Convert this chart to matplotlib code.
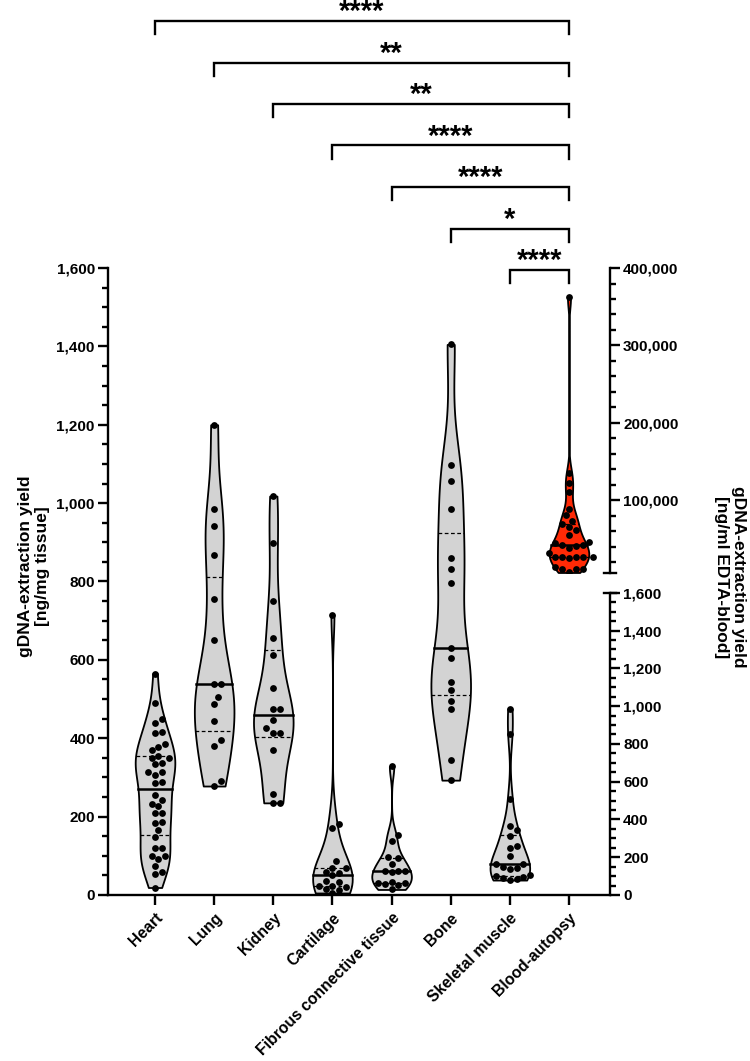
import numpy as np
import matplotlib.pyplot as plt
from matplotlib.ticker import MultipleLocator, FuncFormatter
from matplotlib.transforms import blended_transform_factory

plt.rcParams['font.family'] = ['Liberation Sans', 'DejaVu Sans']
plt.rcParams['font.weight'] = 'bold'

# the data (ng/mg tissue, blood in ng/ml)
categories = ['Heart', 'Lung', 'Kidney', 'Cartilage', 'Fibrous connective tissue',
              'Bone', 'Skeletal muscle', 'Blood-autopsy']
heart = [565, 491, 450, 439, 417, 413, 385, 378, 370, 355, 350, 350, 336, 333, 315, 315,
         307, 289, 285, 255, 243, 232, 226, 209, 209, 187, 183, 165, 148, 120, 120,
         99, 99, 92, 75, 58, 53, 19]
lung = [1200, 986, 941, 868, 755, 651, 538, 538, 504, 487, 443, 395, 381, 290, 278]
kidney = [1018, 898, 750, 657, 613, 529, 474, 474, 446, 427, 414, 414, 370, 258, 235, 235]
cartilage = [715, 181, 172, 86, 70, 68, 58, 56, 52, 35, 32, 24, 22, 20, 14, 12, 5]
fibrous = [328, 153, 138, 96, 94, 80, 62, 61, 60, 58, 34, 31, 30, 29, 25, 14]
bone = [1405, 1096, 1057, 984, 861, 831, 796, 629, 605, 543, 523, 496, 475, 344, 293]
skeletal = [475, 410, 245, 175, 165, 150, 125, 120, 100, 80, 78, 72, 70, 65, 50, 48,
            46, 42, 40, 38]
blood = [362000, 135000, 122000, 111000, 89000, 81000, 74000, 69000, 66000, 62000,
         55000, 46000, 45000, 43000, 42000, 41000, 39000, 32000, 27000, 27000, 27000,
         27000, 27000, 26000, 14000, 12000, 12000, 12000, 7000]
tissues = [heart, lung, kidney, cartilage, fibrous, bone, skeletal]

# significance brackets: group index vs blood (top to bottom)
comp_groups = [0, 1, 2, 3, 4, 5, 6]
comp_labels = ['****', '**', '**', '****', '****', '*', '****']

H = 1061.0
fig = plt.figure(figsize=(7.5, 10.61), dpi=100)
ax = fig.add_axes([0.144, 0.1565, 0.6693, 0.5909])
ax_hi = fig.add_axes([0.144, 0.4602, 0.6693, 0.2872])
ax_lo = fig.add_axes([0.144, 0.1565, 0.6693, 0.2848])

xlim = (-0.795, 7.693)
for a in (ax, ax_hi, ax_lo):
    a.set_xlim(xlim)
    a.patch.set_visible(False)
ax.set_ylim(0, 1600)
ax_hi.set_ylim(6700, 400000)
ax_lo.set_ylim(0, 1600)

lw_ax = 1.7
comma = FuncFormatter(lambda v, p: '{:,.0f}'.format(v))

for s in ['top', 'right']:
    ax.spines[s].set_visible(False)
for s in ['left', 'bottom']:
    ax.spines[s].set_linewidth(lw_ax)
ax.yaxis.set_major_locator(MultipleLocator(200))
ax.yaxis.set_minor_locator(MultipleLocator(50))
ax.yaxis.set_major_formatter(comma)
ax.tick_params(axis='y', which='major', length=7.5, width=lw_ax, labelsize=11, pad=2)
ax.tick_params(axis='y', which='minor', length=4, width=lw_ax)
ax.set_xticks(range(len(categories)))
ax.set_xticklabels(categories, rotation=45, ha='right', rotation_mode='anchor', fontsize=11.3)
ax.tick_params(axis='x', length=7, width=lw_ax, pad=4)

for a in (ax_hi, ax_lo):
    for s in ['top', 'left', 'bottom']:
        a.spines[s].set_visible(False)
    a.spines['right'].set_linewidth(lw_ax)
    a.yaxis.tick_right()
    a.tick_params(axis='x', bottom=False, labelbottom=False)
    a.tick_params(axis='y', which='major', length=7.5, width=lw_ax, labelsize=11, pad=2)
    a.tick_params(axis='y', which='minor', length=4, width=lw_ax)
    a.yaxis.set_major_formatter(comma)
ax_hi.set_yticks([100000, 200000, 300000, 400000])
ax_hi.yaxis.set_minor_locator(MultipleLocator(20000))
ax_lo.yaxis.set_minor_locator(MultipleLocator(50))
ax_lo.set_yticks(np.arange(0, 1601, 200))

# break caps
cap = 0.012
ax_hi.plot([1 - cap, 1 + cap], [0, 0], transform=ax_hi.transAxes, color='black', lw=lw_ax, clip_on=False)
ax_lo.plot([1 - cap, 1 + cap], [1, 1], transform=ax_lo.transAxes, color='black', lw=lw_ax, clip_on=False)

fig.text(0.045, 1 - 566 / H, 'gDNA-extraction yield\n[ng/mg tissue]', rotation=90,
         ha='center', va='center', multialignment='center', fontsize=12.5, fontweight='bold')
fig.text(0.973, 1 - 577 / H, 'gDNA-extraction yield\n[ng/ml EDTA-blood]', rotation=270,
         ha='center', va='center', multialignment='center', fontsize=12.5, fontweight='bold')


def swarm(a, vals, pos, d=6.8):
    t = a.transData
    ypx = t.transform(np.column_stack([np.full(len(vals), pos), vals]))[:, 1]
    xunit = t.transform([[pos + 1, 0]])[0, 0] - t.transform([[pos, 0]])[0, 0]
    placed = []
    xs = np.zeros(len(vals))
    for i in np.argsort(ypx):
        for k in [0, 1, -1, 2, -2, 3, -3, 4, -4, 5, -5, 6, -6, 7, -7]:
            off = k * d * 0.5
            if all(np.hypot(off - px, ypx[i] - py) >= d for px, py in placed):
                break
        placed.append((off, ypx[i]))
        xs[i] = pos + off / xunit
    return xs


def draw_violin(a, data, pos, color, bw=0.35):
    parts = a.violinplot([data], positions=[pos], widths=0.67, showextrema=False, bw_method=bw)
    body = parts['bodies'][0]
    body.set_facecolor(color)
    body.set_edgecolor('black')
    body.set_linewidth(1.3)
    body.set_alpha(1)
    v = body.get_paths()[0].vertices
    right = v[v[:, 0] > pos]
    right = right[np.argsort(right[:, 1])]
    q1, med, q3 = np.percentile(data, [25, 50, 75])
    for q, ls, lw in [(med, '-', 1.8), (q1, (0, (3, 2)), 0.9), (q3, (0, (3, 2)), 0.9)]:
        hw = np.interp(q, right[:, 1], right[:, 0]) - pos
        a.plot([pos - hw, pos + hw], [q, q], color='black', ls=ls, lw=lw, zorder=2.5)
    xs = swarm(a, np.array(data, dtype=float), pos)
    a.scatter(xs, data, s=24, color='black', zorder=3, linewidths=0)


for i, d in enumerate(tissues):
    draw_violin(ax, d, i, '#d3d3d3')
draw_violin(ax_hi, blood, 7, '#ff2a06', bw=0.2)

# brackets above the plot (x in data, y in figure pixels)
bt = blended_transform_factory(ax.transData, fig.transFigure)
for j, (g, lab) in enumerate(zip(comp_groups, comp_labels)):
    yb = 21 + j * 41.5
    yl = yb + 13
    ax.plot([g, g, 7, 7], [1 - yl / H, 1 - yb / H, 1 - yb / H, 1 - yl / H], color='black',
            lw=1.7, transform=bt, clip_on=False, solid_joinstyle='miter')
    ax.text((g + 7) / 2, 1 - (yb - 1) / H, lab, ha='center', va='baseline', fontsize=21,
            fontweight='bold', transform=bt, clip_on=False)

fig.savefig('out.png', dpi=100)
